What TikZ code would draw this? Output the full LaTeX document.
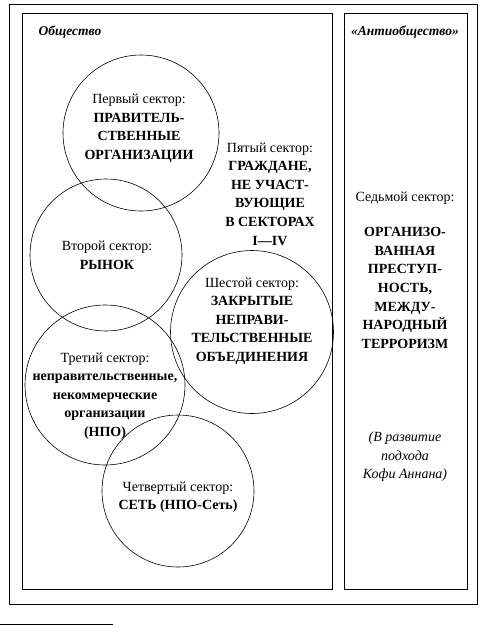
\documentclass[tikz,border=0pt]{standalone}
\usepackage{fontspec}
\setmainfont{Liberation Serif}
\begin{document}
\begin{tikzpicture}[x=1pt,y=-1pt,
  frame/.style={draw=black,line width=0.9pt},
  sector/.style={draw=black,line width=0.6pt,circle,inner sep=0pt},
  lbl/.style={align=center,inner sep=0pt,font=\fontsize{14}{18.6}\selectfont},
  head/.style={inner sep=0pt,font=\fontsize{13.5}{16}\selectfont\bfseries\itshape}]
\useasboundingbox (0,0) rectangle (481,625);
% frames
\draw[frame] (9,4) rectangle (477,604);
\draw[frame] (22,13) rectangle (332,589);
\draw[frame] (344,13) rectangle (467,589);
\draw[line width=0.6pt] (0,624) -- (113,624);
% headings
\node[head] (soc) at (70,32) {Общество};
\node[head] (anti) at (405,32) {«Антиобщество»};
% circles
\node[sector,minimum size=156pt] (c1) at (141,133) {};
\node[sector,minimum size=152pt] (c2) at (106,255) {};
\node[sector,minimum size=160pt] (c3) at (105,385) {};
\node[sector,minimum size=152pt] (c4) at (178,491) {};
\node[sector,minimum size=163pt] (c6) at (252,332) {};
% texts
\node[lbl] (t1) at (139,128) {Первый сектор:\\\textbf{ПРАВИТЕЛЬ-}\\\textbf{СТВЕННЫЕ}\\\textbf{ОРГАНИЗАЦИИ}};
\node[lbl] (t5) at (270,194) {Пятый сектор:\\\textbf{ГРАЖДАНЕ,}\\\textbf{НЕ УЧАСТ-}\\\textbf{ВУЮЩИЕ}\\\textbf{В СЕКТОРАХ}\\\textbf{I—IV}};
\node[lbl] (t2) at (107,255) {Второй сектор:\\\textbf{РЫНОК}};
\node[lbl] (t6) at (252,321) {Шестой сектор:\\\textbf{ЗАКРЫТЫЕ}\\\textbf{НЕПРАВИ-}\\\textbf{ТЕЛЬСТВЕННЫЕ}\\\textbf{ОБЪЕДИНЕНИЯ}};
\node[lbl] (t3) at (105,396) {Третий сектор:\\\textbf{неправительственные,}\\\textbf{некоммерческие}\\\textbf{организации}\\\textbf{(НПО)}};
\node[lbl] (t4) at (178,497) {Четвертый сектор:\\\textbf{СЕТЬ (НПО-Сеть)}};
\node[lbl] (t7a) at (405,198) {Седьмой сектор:};
\node[lbl] (t7b) at (405,288) {\textbf{ОРГАНИЗО-}\\\textbf{ВАННАЯ}\\\textbf{ПРЕСТУП-}\\\textbf{НОСТЬ,}\\\textbf{МЕЖДУ-}\\\textbf{НАРОДНЫЙ}\\\textbf{ТЕРРОРИЗМ}};
\node[lbl,font=\fontsize{14}{18.6}\selectfont\itshape] (t7c) at (405,457) {(В развитие\\подхода\\Кофи Аннана)};
\end{tikzpicture}
\end{document}
